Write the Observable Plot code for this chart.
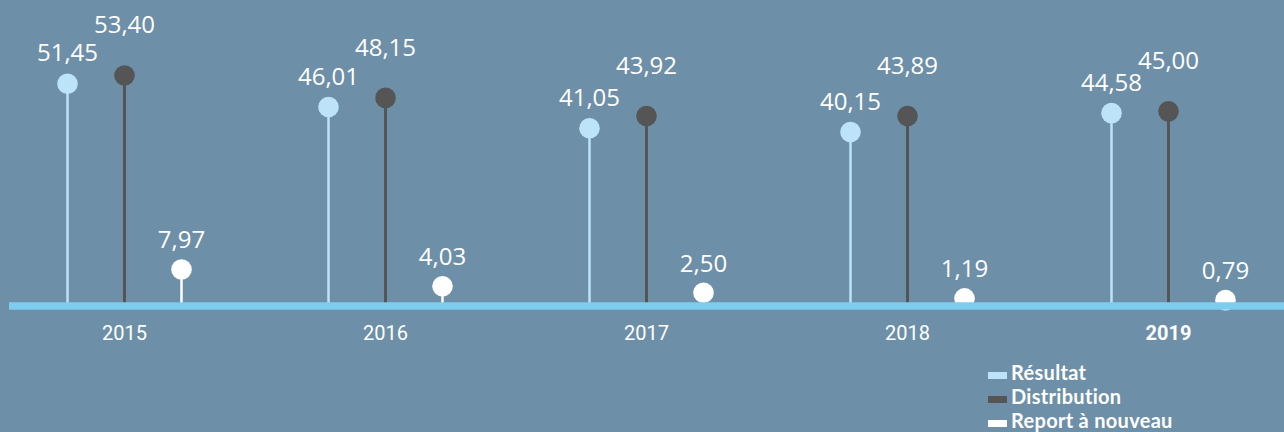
<!DOCTYPE html>
<html><head><meta charset="utf-8">
<script src="https://cdn.jsdelivr.net/npm/d3@7"></script>
<script src="https://cdn.jsdelivr.net/npm/@observablehq/plot@0.6"></script>
<style>
html,body{margin:0;padding:0;background:#6e8fa8;width:1284px;height:432px;overflow:hidden;}
#chart{position:absolute;left:0;top:0;}
#legend{position:absolute;left:988px;top:360px;font-family:Lato,sans-serif;font-weight:700;font-size:20px;color:#fff;line-height:24px;font-variant-ligatures:none;letter-spacing:0.3px;}
#legend div{display:flex;align-items:center;}
#legend span.sw{display:inline-block;width:19px;height:7px;margin-right:4px;margin-top:6px;}
</style></head>
<body><div id="chart"></div><div id="legend"></div>
<script>
const years = ["2015","2016","2017","2018","2019"];
const seriesNames = ["Résultat","Distribution","Report à nouveau"];
const resultat = [51.45, 46.01, 41.05, 40.15, 44.58];
const distribution = [53.40, 48.15, 43.92, 43.89, 45.00];
const report = [7.97, 4.03, 2.50, 1.19, 0.79];
const colors = ["#bde3f8", "#555555", "#ffffff"];

const values = [resultat, distribution, report];
const offsets = [-57, 0, 57];
const labelDy = [-30, -50, -29];
const fmt = v => v.toFixed(2).replace(".", ",");

const marks = [];
values.forEach((vals, i) => {
  const data = years.map((y, j) => ({year: y, value: vals[j]}));
  marks.push(Plot.ruleX(data, {x: "year", y1: 0, y2: "value", dx: offsets[i], stroke: colors[i], strokeWidth: i === 1 ? 3 : 2.5}));
  marks.push(Plot.dot(data, {x: "year", y: "value", dx: offsets[i], r: 10.3, fill: colors[i]}));
  marks.push(Plot.text(data, {x: "year", y: "value", dx: offsets[i], dy: labelDy[i], text: d => fmt(d.value), fill: "#ffffff", fontSize: 24, fontFamily: "Open Sans", lineAnchor: "middle"}));
});
marks.push(Plot.ruleY([0], {stroke: "#7ccdf0", strokeWidth: 7.5, dy: 2.5}));
const last = years[years.length - 1];
marks.push(Plot.text(years.filter(y => y !== last), {x: d => d, frameAnchor: "bottom", dy: 28, text: d => d, fill: "#fff", fontSize: 20, fontFamily: "Roboto", lineAnchor: "middle"}));
marks.push(Plot.text([last], {x: d => d, frameAnchor: "bottom", dy: 28, text: d => d, fill: "#fff", fontSize: 20, fontWeight: "bold", fontFamily: "Roboto", lineAnchor: "middle"}));

const chart = Plot.plot({
  width: 1284, height: 350,
  marginLeft: 9, marginRight: 0, marginTop: 0, marginBottom: 45,
  style: {background: "transparent", overflow: "visible"},
  x: {type: "point", domain: years, range: [124, 1168], padding: 0, axis: null},
  y: {domain: [0, 60], range: [303, 303 - 60 * 4.27], axis: null},
  marks
});
document.getElementById("chart").appendChild(chart);

const legend = document.getElementById("legend");
seriesNames.forEach((n, i) => {
  const row = document.createElement("div");
  row.innerHTML = `<span class="sw" style="background:${colors[i]}"></span>${n}`;
  legend.appendChild(row);
});
</script></body></html>
